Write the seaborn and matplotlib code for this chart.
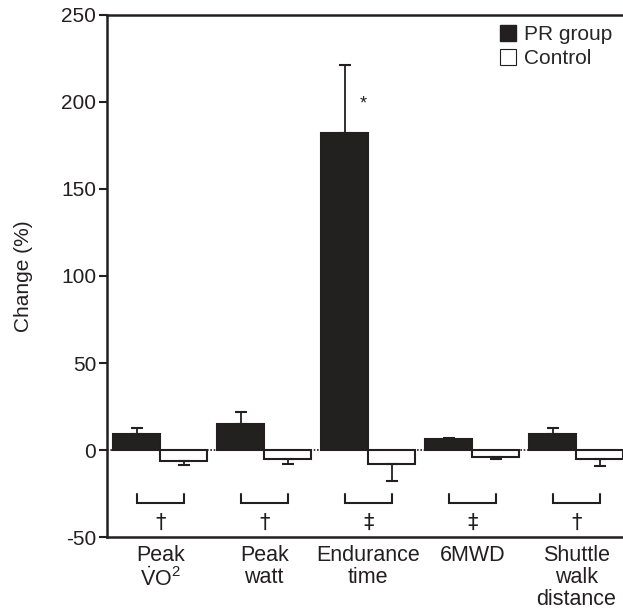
import matplotlib
matplotlib.use("Agg")
import matplotlib.pyplot as plt
import seaborn as sns
import pandas as pd
import numpy as np
from matplotlib.lines import Line2D

categories = ["Peak\n$\\dot{\\mathregular{V}}$O$^2$", "Peak\nwatt", "Endurance\ntime", "6MWD", "Shuttle\nwalk\ndistance"]
pr_values = [9, 15, 182, 6.5, 9.5]
pr_err = [3.5, 7, 39, 0.7, 3]
ctrl_values = [-6, -5, -8, -4, -5]
ctrl_err = [2.5, 3, 10, 1, 4]
sig_marks = ["\u2020", "\u2020", "\u2021", "\u2021", "\u2020"]
groups = ["PR group", "Control"]

sns.set_style("ticks")
plt.rcParams["font.family"] = ["Liberation Sans", "DejaVu Sans"]
plt.rcParams["mathtext.fontset"] = "custom"
plt.rcParams["mathtext.rm"] = "Liberation Sans"
plt.rcParams["mathtext.it"] = "Liberation Sans"

df = pd.DataFrame({
    "cat": categories * 2,
    "group": [groups[0]] * 5 + [groups[1]] * 5,
    "value": pr_values + ctrl_values,
})

fig = plt.figure(figsize=(6.23, 6.16), dpi=100)
ax = fig.add_axes([0.172, 0.128, 0.828, 0.848])
sns.barplot(data=df, x="cat", y="value", hue="group", hue_order=groups,
            palette={groups[0]: "#231f20", groups[1]: "white"},
            edgecolor="#231f20", linewidth=1.5, width=0.9, errorbar=None,
            ax=ax, legend=False)

# error bars (one-sided)
bars = ax.patches
n = len(categories)
for i in range(n):
    b = bars[i]
    cx = b.get_x() + b.get_width() / 2
    ax.errorbar(cx, pr_values[i], yerr=[[0], [pr_err[i]]], fmt="none",
                ecolor="#231f20", elinewidth=1.3, capsize=4, capthick=1.5, zorder=1)
    b2 = bars[n + i]
    cx2 = b2.get_x() + b2.get_width() / 2
    ax.errorbar(cx2, ctrl_values[i], yerr=[[ctrl_err[i]], [0]], fmt="none",
                ecolor="#231f20", elinewidth=1.3, capsize=4, capthick=1.5, zorder=1)
    # brackets
    ax.plot([cx, cx, cx2, cx2], [-25, -30.5, -30.5, -25], color="#231f20", lw=1.5,
            solid_joinstyle="miter")
    ax.text((cx + cx2) / 2, -42, sig_marks[i], ha="center", va="center",
            fontsize=15, color="#231f20", family=["DejaVu Sans"])

# asterisk
b = bars[2]
ax.text(b.get_x() + b.get_width() / 2 + 0.18, 199, "*", ha="center", va="center",
        fontsize=13, color="#231f20")

ax.axhline(0, color="#231f20", lw=1.2, ls=(0, (1, 1)), zorder=0.5)

ax.set_ylim(-50, 250)
ax.set_xlim(-0.51, 4.45)
ax.set_yticks([-50, 0, 50, 100, 150, 200, 250])
ax.set_yticklabels(["-50", "0", "50", "100", "150", "200", "250"])
ax.tick_params(axis="y", labelsize=15, width=1.5, length=6, pad=2, colors="#231f20")
ax.tick_params(axis="x", labelsize=15.5, length=0, pad=6, colors="#231f20")
for lbl in ax.get_xticklabels():
    lbl.set_linespacing(1.05)
ax.set_xlabel("")
ax.set_ylabel("Change (%)", fontsize=15, color="#231f20", labelpad=20)

for s in ["left", "top", "bottom"]:
    ax.spines[s].set_linewidth(1.8)
    ax.spines[s].set_color("#231f20")
ax.spines["right"].set_visible(False)

handles = [Line2D([0], [0], marker="s", ls="none", markersize=12,
                  markerfacecolor="#231f20", markeredgecolor="#231f20"),
           Line2D([0], [0], marker="s", ls="none", markersize=12,
                  markerfacecolor="white", markeredgecolor="#231f20", markeredgewidth=0.8)]
ax.legend(handles, groups, loc="upper right", frameon=False, fontsize=15,
          handletextpad=0.3, borderaxespad=0.2, labelspacing=0.25, handlelength=1.0,
          borderpad=0.3)

fig.savefig("out.png", dpi=100)
